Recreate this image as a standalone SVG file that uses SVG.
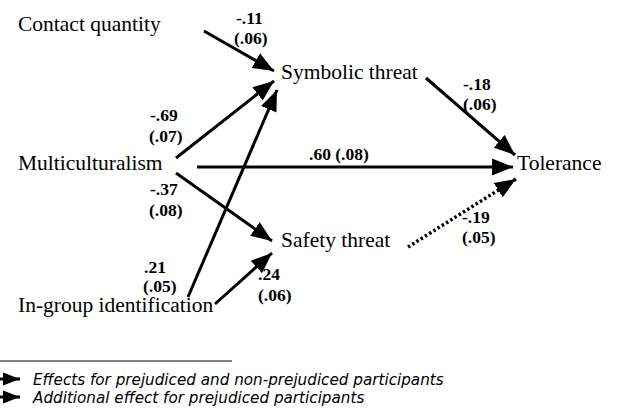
<svg xmlns="http://www.w3.org/2000/svg" width="623" height="409" viewBox="0 0 623 409">
<style>
.node{font-family:"Liberation Serif","Times New Roman",serif;font-size:21.5px;fill:#000}
.coef{font-family:"Liberation Serif","Times New Roman",serif;font-size:17.5px;font-weight:bold;fill:#000}
.leg{font-family:"DejaVu Sans",Verdana,sans-serif;font-size:15.2px;font-style:italic;fill:#000}
.edge{stroke:#000;stroke-width:3;fill:none}
.dot{stroke:#000;stroke-width:3.5;fill:none;stroke-dasharray:2.5 2.5}
</style>
<defs>
<marker id="ah" markerUnits="userSpaceOnUse" markerWidth="22" markerHeight="18" refX="20" refY="8" orient="auto" viewBox="0 0 21 16">
<path d="M0,0 L20,8 L0,16 z" fill="#000"/>
</marker>
<marker id="ahs" markerUnits="userSpaceOnUse" markerWidth="18" markerHeight="14" refX="17" refY="6.5" orient="auto" viewBox="0 0 18 13">
<path d="M0,0 L17,6.5 L0,13 z" fill="#000"/>
</marker>
</defs>
<rect width="623" height="409" fill="#fff"/>
<g id="connectors">
<line class="edge" x1="204" y1="31" x2="274" y2="71" marker-end="url(#ah)"/>
<line class="edge" x1="176" y1="158" x2="274" y2="81" marker-end="url(#ah)"/>
<line class="edge" x1="188" y1="297" x2="277" y2="90" marker-end="url(#ah)"/>
<line class="edge" x1="197" y1="167" x2="513" y2="167" marker-end="url(#ah)"/>
<line class="edge" x1="176" y1="173" x2="272" y2="241" marker-end="url(#ah)"/>
<line class="edge" x1="215" y1="304" x2="272" y2="253" marker-end="url(#ah)"/>
<line class="edge" x1="426" y1="78" x2="515" y2="155" marker-end="url(#ah)"/>
<line class="dot" x1="408" y1="247" x2="516" y2="179" marker-end="url(#ah)"/>
</g>
<g id="contact"><text class="node" x="18" y="31">Contact quantity</text></g>
<g id="multi"><text class="node" x="18" y="170">Multiculturalism</text></g>
<g id="ingroup"><text class="node" x="18" y="312">In-group identification</text></g>
<g id="symbolic"><text class="node" x="281" y="79">Symbolic threat</text></g>
<g id="safety"><text class="node" x="281" y="247">Safety threat</text></g>
<g id="tolerance"><text class="node" x="517" y="170">Tolerance</text></g>
<g id="labels">
<text class="coef" x="236" y="24">-.11</text>
<text class="coef" x="234" y="44">(.06)</text>
<text class="coef" x="150" y="121">-.69</text>
<text class="coef" x="149" y="142">(.07)</text>
<text class="coef" x="150" y="195">-.37</text>
<text class="coef" x="149" y="216">(.08)</text>
<text class="coef" x="144" y="273">.21</text>
<text class="coef" x="143" y="292">(.05)</text>
<text class="coef" x="258" y="280">.24</text>
<text class="coef" x="258" y="301">(.06)</text>
<text class="coef" x="309" y="160">.60 (.08)</text>
<text class="coef" x="463" y="90">-.18</text>
<text class="coef" x="463" y="110">(.06)</text>
<text class="coef" x="462" y="223">-.19</text>
<text class="coef" x="462" y="243">(.05)</text>
</g>
<g id="legend">
<line x1="0" y1="361" x2="232" y2="361" stroke="#000" stroke-width="1.2"/>
<line class="edge" x1="-5" y1="379" x2="20" y2="379" marker-end="url(#ahs)"/>
<line class="edge" x1="-5" y1="397" x2="20" y2="397" marker-end="url(#ahs)"/>
<text class="leg" x="33" y="385">Effects for prejudiced and non-prejudiced participants</text>
<text class="leg" x="33" y="403">Additional effect for prejudiced participants</text>
</g>
</svg>
